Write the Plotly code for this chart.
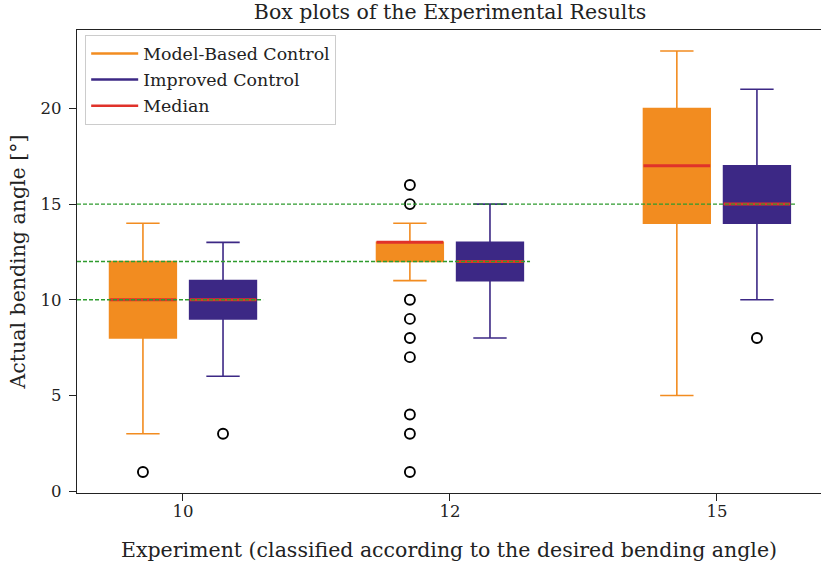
import plotly.graph_objects as go

# Desired bending angles (experiment groups) and their axis positions
experiments = ["10", "12", "15"]
positions = [1, 2, 3]

# Box statistics: lower whisker, Q1, median, Q3, upper whisker
mb_low = [3, 11, 5]
mb_q1 = [8, 12, 14]
mb_med = [10, 13, 17]
mb_q3 = [12, 13, 20]
mb_high = [14, 14, 23]
mb_outliers = [[1], [16, 15, 10, 9, 8, 7, 4, 3, 1], []]

ic_low = [6, 8, 10]
ic_q1 = [9, 11, 14]
ic_med = [10, 12, 15]
ic_q3 = [11, 13, 17]
ic_high = [13, 15, 21]
ic_outliers = [[3], [], [8]]

# Target angles drawn as reference lines
targets = [10, 12, 15]

ORANGE = "#F28C20"
PURPLE = "#3C2885"
RED = "#E0322A"
GREEN = "#2E9B2E"
TEXT = "#222222"

offset = 0.15
box_w = 0.25
font_family = "DejaVu Serif"

fig = go.Figure()

groups = [
    (-offset, mb_low, mb_q1, mb_med, mb_q3, mb_high, mb_outliers, ORANGE),
    (offset, ic_low, ic_q1, ic_med, ic_q3, ic_high, ic_outliers, PURPLE),
]

for off, lo, q1, med, q3, hi, outl, col in groups:
    for i, p in enumerate(positions):
        fig.add_trace(go.Box(
            x=[p + off], q1=[q1[i]], median=[med[i]], q3=[q3[i]],
            lowerfence=[lo[i]], upperfence=[hi[i]],
            width=box_w, whiskerwidth=0.5,
            fillcolor=col, line=dict(color=col, width=1.6),
            boxpoints=False, showlegend=False, hoverinfo="skip",
        ))

# Median bars drawn in red across each box
for off, lo, q1, med, q3, hi, outl, col in groups:
    for i, p in enumerate(positions):
        fig.add_trace(go.Scatter(
            x=[p + off - box_w / 2, p + off + box_w / 2], y=[med[i], med[i]],
            mode="lines", line=dict(color=RED, width=3),
            showlegend=False, hoverinfo="skip",
        ))

# Outlier markers
for off, lo, q1, med, q3, hi, outl, col in groups:
    ox, oy = [], []
    for i, p in enumerate(positions):
        for v in outl[i]:
            ox.append(p + off)
            oy.append(v)
    fig.add_trace(go.Scatter(
        x=ox, y=oy, mode="markers",
        marker=dict(symbol="circle-open", size=10, color="black", line=dict(width=1.9)),
        showlegend=False, hoverinfo="skip",
    ))

# Dashed target lines, from the left edge up to just past each group
x_left = 0.603
for p, t in zip(positions, targets):
    fig.add_trace(go.Scatter(
        x=[x_left, p + 0.3], y=[t, t], mode="lines",
        line=dict(color=GREEN, width=1.3, dash="4px,2px"),
        showlegend=False, hoverinfo="skip",
    ))

# Legend entries (one group each so the row gap can be widened)
for name, col in [("Model-Based Control", ORANGE), ("Improved Control", PURPLE), ("Median", RED)]:
    fig.add_trace(go.Scatter(
        x=[None], y=[None], mode="lines", name=name, legendgroup=name,
        line=dict(color=col, width=2.5),
    ))

fig.update_layout(
    width=821, height=566,
    margin=dict(l=77, r=0, t=30, b=73),
    paper_bgcolor="white", plot_bgcolor="white",
    font=dict(family=font_family, size=17, color=TEXT),
    title=dict(
        text="Box plots of the Experimental Results",
        x=450 / 821, xanchor="center", y=1 - 12 / 566, yanchor="middle",
        yref="container", xref="container",
        font=dict(family=font_family, size=20.5, color=TEXT),
    ),
    legend=dict(
        x=0.011, y=0.99, xanchor="left", yanchor="top",
        bgcolor="rgba(255,255,255,0.8)", bordercolor="#cccccc", borderwidth=1,
        font=dict(family=font_family, size=17.4, color=TEXT),
        tracegroupgap=0.5, itemwidth=47,
    ),
    showlegend=True,
)

fig.update_xaxes(
    range=[x_left, 3.39],
    tickmode="array", tickvals=positions, ticktext=experiments,
    ticks="outside", ticklen=7, tickwidth=1, tickcolor=TEXT,
    tickfont=dict(size=16.5), ticklabelstandoff=-4,
    showline=True, linecolor=TEXT, linewidth=1.2, mirror=True,
    showgrid=False, zeroline=False,
    title=dict(text="Experiment (classified according to the desired bending angle)",
               standoff=22, font=dict(size=20.5)),
)
fig.update_yaxes(
    range=[-0.1, 24.1],
    tickmode="array", tickvals=[0, 5, 10, 15, 20],
    ticks="outside", ticklen=7, tickwidth=1, tickcolor=TEXT,
    tickfont=dict(size=16.5), ticklabelstandoff=4,
    showline=True, linecolor=TEXT, linewidth=1.2,
    showgrid=False, zeroline=False,
    title=dict(text="Actual bending angle [°]", standoff=9, font=dict(size=20.5)),
)

fig.write_html("out.html")
